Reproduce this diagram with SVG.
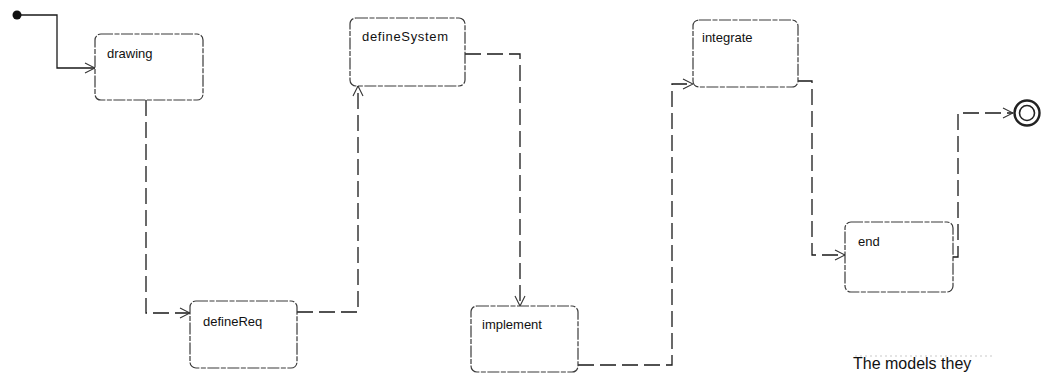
<svg xmlns="http://www.w3.org/2000/svg" width="1047" height="374" viewBox="0 0 1047 374">
<style>
.box{fill:#fff;stroke:#3a3a3a;stroke-width:1.2;stroke-dasharray:12 1.5 5 1.5}
.lbl{font-family:"Liberation Sans",Arial,sans-serif;font-size:13px;fill:#111}
.c{fill:none;stroke:#1a1a1a;stroke-width:1.3}
.d{stroke-dasharray:16 6}
</style>
<defs>
<marker id="a" viewBox="0 0 12 12" refX="11" refY="6" markerWidth="12" markerHeight="12" markerUnits="userSpaceOnUse" orient="auto">
<path d="M1,1 L11,6 L1,11" fill="none" stroke="#333" stroke-width="1.1"/>
</marker>
</defs>
<rect width="1047" height="374" fill="#fff"/>
<g id="connectors">
<path class="c" d="M20,15 H57 V68 H95" marker-end="url(#a)"/>
<path class="c d" d="M146,100 V313 H190" marker-end="url(#a)"/>
<path class="c d" d="M297,312 H358 V86" marker-end="url(#a)"/>
<path class="c d" d="M465,54 H520 V306" marker-end="url(#a)"/>
<path class="c d" d="M578,365 H672 V84 H693" marker-end="url(#a)"/>
<path class="c d" d="M798,81 H812 V255 H845" marker-end="url(#a)"/>
<path class="c d" d="M953,257 H958 V113 H1013" marker-end="url(#a)"/>
</g>
<g id="start"><circle cx="17" cy="15" r="4.5" fill="#111"/></g>
<g id="drawing"><rect class="box" x="95" y="34" width="108" height="66" rx="6"/><text class="lbl" x="107" y="58">drawing</text></g>
<g id="defineReq"><rect class="box" x="190" y="301" width="107" height="67" rx="6"/><text class="lbl" x="203" y="326">defineReq</text></g>
<g id="defineSystem"><rect class="box" x="350" y="18" width="115" height="68" rx="6"/><text class="lbl" x="362" y="41" textLength="86">defineSystem</text></g>
<g id="implement"><rect class="box" x="471" y="306" width="107" height="66" rx="6"/><text class="lbl" x="482" y="329">implement</text></g>
<g id="integrate"><rect class="box" x="693" y="20" width="105" height="67" rx="6"/><text class="lbl" x="702" y="42">integrate</text></g>
<g id="end"><rect class="box" x="845" y="222" width="108" height="70" rx="6"/><text class="lbl" x="858" y="246">end</text></g>
<g id="final"><circle cx="1027" cy="113" r="12.5" fill="#fff" stroke="#222" stroke-width="2.4"/><circle cx="1027" cy="113" r="7.5" fill="#fff" stroke="#222" stroke-width="1.6"/></g>
<line x1="855" y1="356" x2="995" y2="356" stroke="#bbb" stroke-width="0.8" stroke-dasharray="2 3"/>
<text x="853" y="369" font-family="'Liberation Sans',Arial,sans-serif" font-size="16" fill="#111">The models they</text>
</svg>
